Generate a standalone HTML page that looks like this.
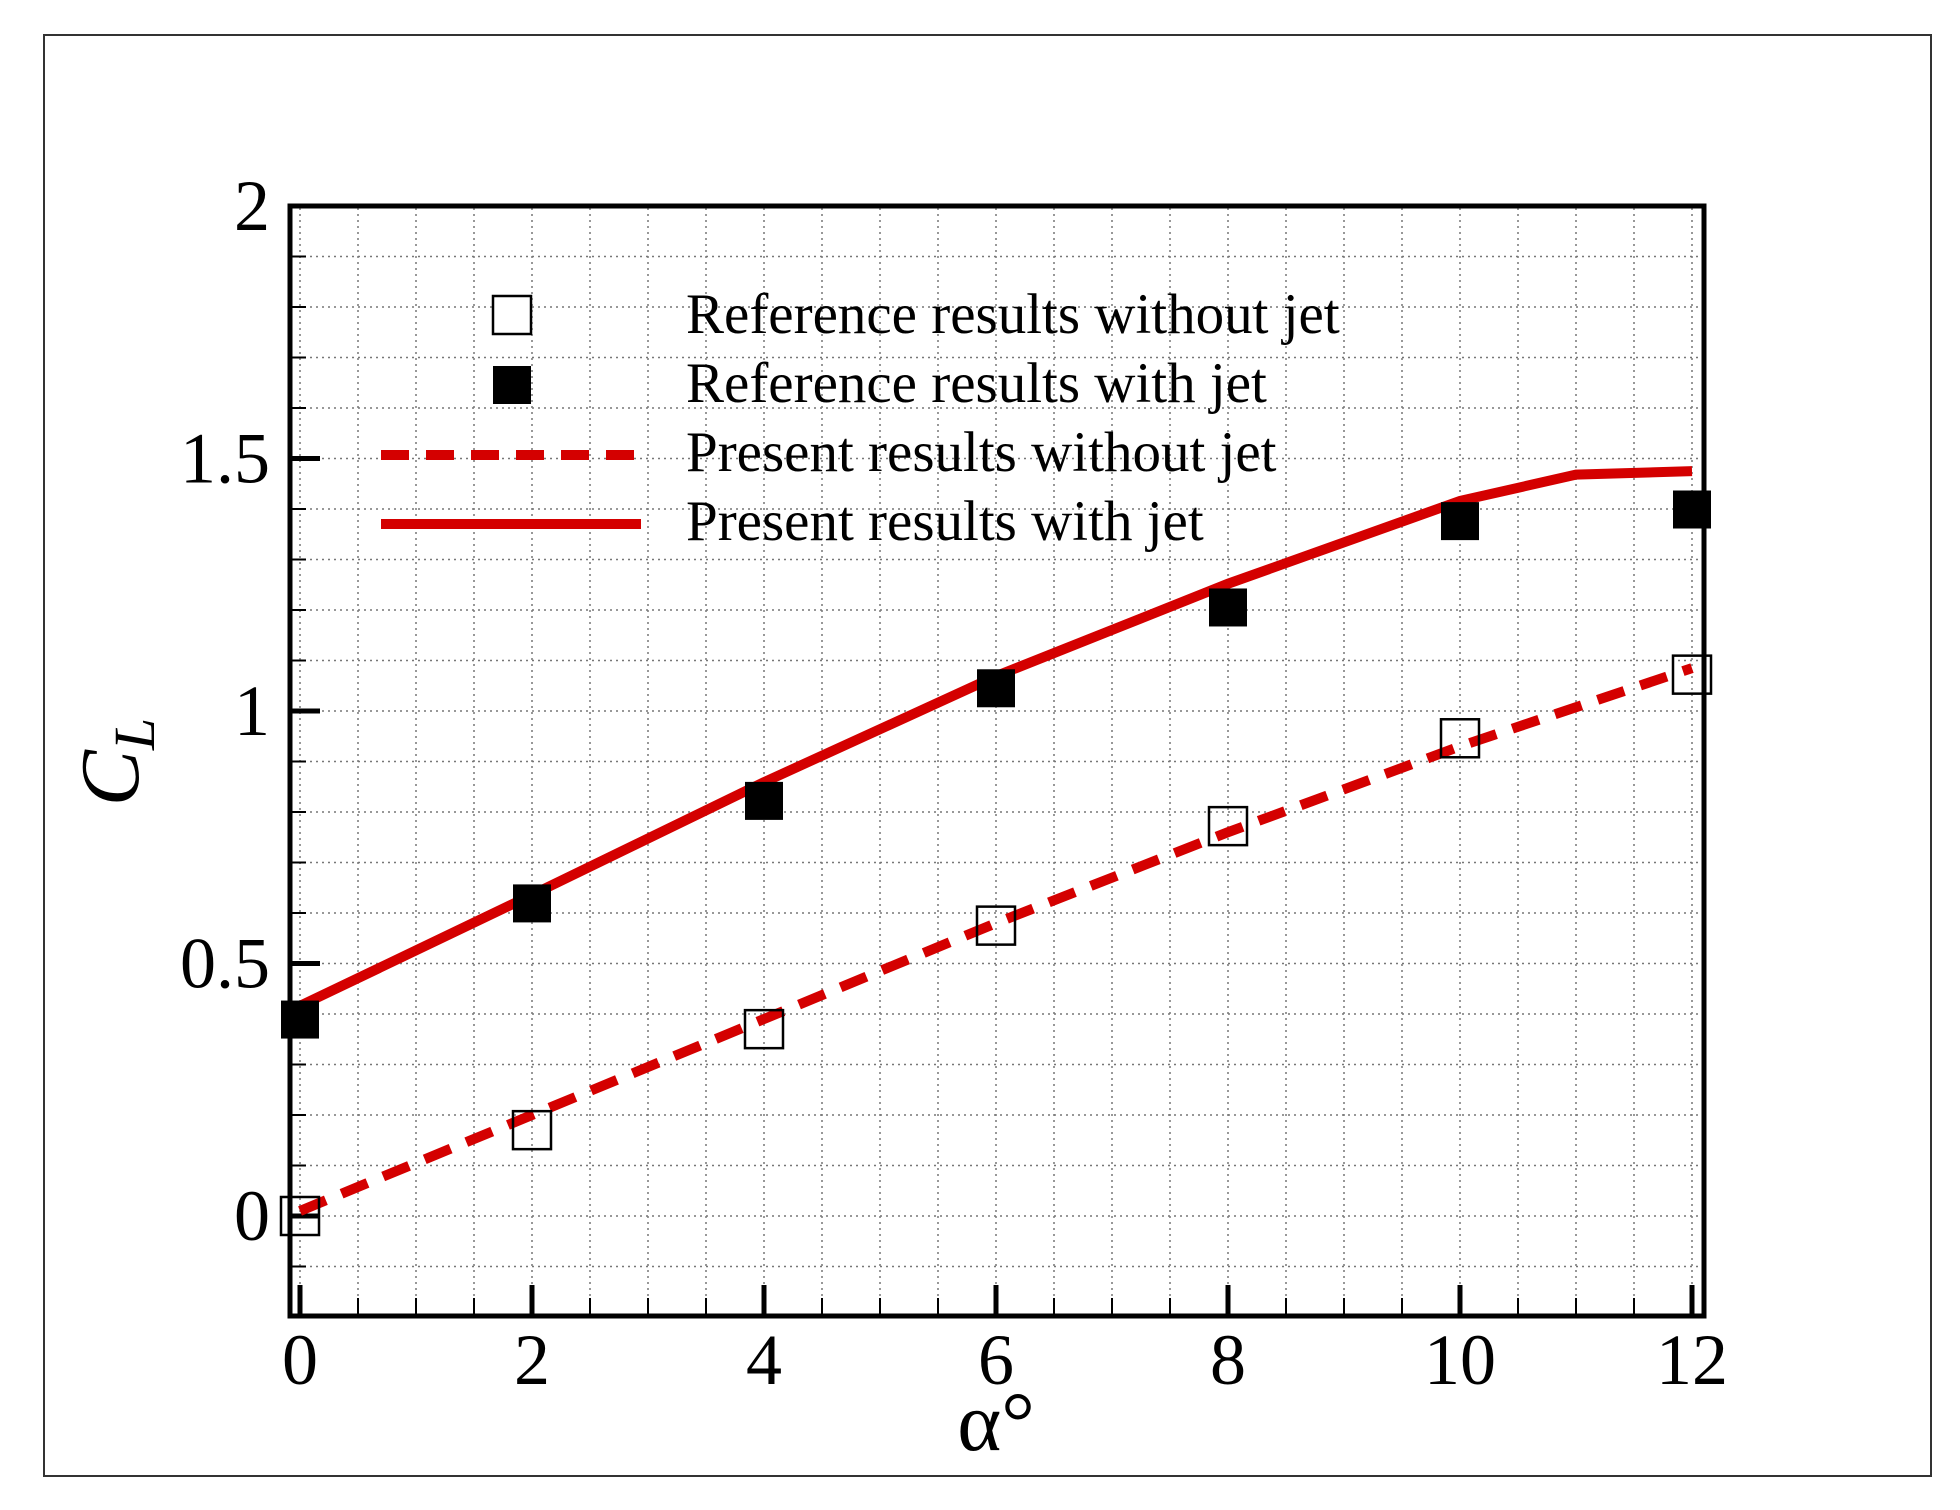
<!DOCTYPE html>
<html><head><meta charset="utf-8"><style>
html,body{margin:0;padding:0;background:#fff;}
svg{display:block;font-family:"Liberation Serif",serif;}
</style></head><body>
<svg id="chart" width="1960" height="1510" viewBox="0 0 1960 1510" xmlns="http://www.w3.org/2000/svg">
<rect x="44" y="35" width="1887" height="1441" fill="#fff" stroke="#333" stroke-width="2"/>
<g id="grid"></g>
<g id="ticks"></g>
<g id="series"></g>
<rect x="290" y="206" width="1414" height="1110" fill="none" stroke="#000" stroke-width="5"/>
<text transform="translate(138,762) rotate(-90)" font-size="84" font-style="italic" text-anchor="middle">C<tspan font-size="58" dy="16">L</tspan></text>
<text x="996" y="1450" font-size="84" text-anchor="middle">α°</text>
<g font-size="57">
  <rect x="493" y="296" width="38" height="38" fill="#fff" stroke="#000" stroke-width="2.5"/>
  <rect x="493" y="366" width="38" height="38" fill="#000"/>
  <line x1="381" y1="455" x2="641" y2="455" stroke="#d40000" stroke-width="10" stroke-dasharray="28 17"/>
  <line x1="381" y1="524" x2="641" y2="524" stroke="#d40000" stroke-width="10"/>
  <text x="686" y="333">Reference results without jet</text>
  <text x="686" y="402">Reference results with jet</text>
  <text x="686" y="471">Present results without jet</text>
  <text x="686" y="540">Present results with jet</text>
</g>
</svg>
<script>
const xTicks = [0, 2, 4, 6, 8, 10, 12];
const yTicks = [0, 0.5, 1, 1.5, 2];
const yTickLabels = ["0", "0.5", "1", "1.5", "2"];
const refAlpha = [0, 2, 4, 6, 8, 10, 12];
const refNoJet = [0.0, 0.17, 0.37, 0.575, 0.772, 0.946, 1.072];
const refJet = [0.389, 0.619, 0.822, 1.045, 1.205, 1.376, 1.399];
const presNoJetAlpha = [0, 2, 4, 6, 8, 10, 12];
const presNoJet = [0.01, 0.2, 0.39, 0.58, 0.76, 0.93, 1.085];
const presJetAlpha = [0, 2, 4, 6, 8, 10, 11, 12];
const presJet = [0.416, 0.636, 0.859, 1.069, 1.252, 1.416, 1.468, 1.475];

const NS = "http://www.w3.org/2000/svg";
const X = v => 300 + v * 116;
const Y = v => 1216 - v * 505;
function mk(tag, attrs, parent) {
  const e = document.createElementNS(NS, tag);
  for (const k in attrs) e.setAttribute(k, attrs[k]);
  parent.appendChild(e);
  return e;
}
const grid = document.getElementById('grid');
const ticks = document.getElementById('ticks');
const series = document.getElementById('series');
const svg = document.getElementById('chart');

for (let v = 0; v <= 12.01; v += 0.5) {
  const l = mk('line', {x1: X(v), y1: 208, x2: X(v), y2: 1314, stroke: '#777', 'stroke-width': 1.5, 'stroke-dasharray': '2 4'}, grid);
  
  
  const major = Math.abs(v % 2) < 1e-6;
  const t = mk('line', {x1: X(v), y1: 1316, x2: X(v), y2: major ? 1285 : 1298, stroke: '#000', 'stroke-width': major ? 5 : 2}, ticks);
  
  
}
for (let i = -2; i <= 20; i++) {
  const v = i / 10;
  const l = mk('line', {x1: 292, y1: Y(v), x2: 1702, y2: Y(v), stroke: '#777', 'stroke-width': 1.5, 'stroke-dasharray': '2 4'}, grid);
  
  
  const major = i % 5 === 0;
  const t = mk('line', {x1: 290, y1: Y(v), x2: major ? 320 : 306, y2: Y(v), stroke: '#000', 'stroke-width': major ? 5 : 2}, ticks);
  
  
}
xTicks.forEach(v => {
  const t = mk('text', {x: X(v), y: 1384, 'font-size': 72, 'text-anchor': 'middle'}, svg);
  t.textContent = String(v);
  
  
});
yTicks.forEach((v, i) => {
  const t = mk('text', {x: 270, y: Y(v) + 24, 'font-size': 72, 'text-anchor': 'end'}, svg);
  t.textContent = yTickLabels[i];
  
  
});
const p1 = mk('polyline', {points: presNoJetAlpha.map((a, i) => X(a) + ',' + Y(presNoJet[i])).join(' '), fill: 'none', stroke: '#d40000', 'stroke-width': 10, 'stroke-dasharray': '28 17'}, series);


const p2 = mk('polyline', {points: presJetAlpha.map((a, i) => X(a) + ',' + Y(presJet[i])).join(' '), fill: 'none', stroke: '#d40000', 'stroke-width': 10}, series);


refAlpha.forEach((a, i) => {
  const m = mk('rect', {x: X(a) - 19, y: Y(refNoJet[i]) - 19, width: 38, height: 38, fill: 'none', stroke: '#000', 'stroke-width': 2.5}, series);
  
  
  const f = mk('rect', {x: X(a) - 19, y: Y(refJet[i]) - 19, width: 38, height: 38, fill: '#000'}, series);
  
  
});
</script>
</body></html>
